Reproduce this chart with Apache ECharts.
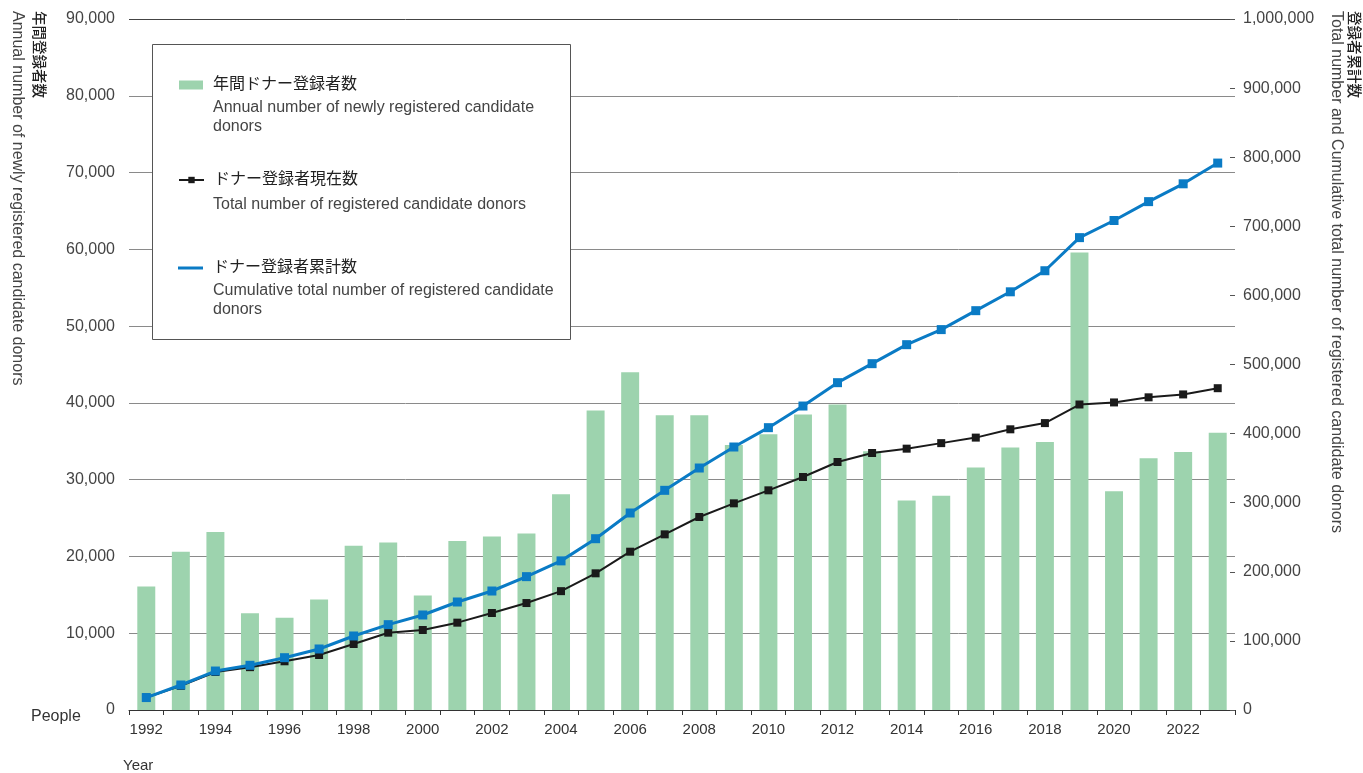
<!DOCTYPE html>
<html>
<head>
<meta charset="utf-8">
<script src="https://cdn.jsdelivr.net/npm/echarts@6/dist/echarts.min.js"></script>
<style>
html,body{margin:0;padding:0;background:#fff;}
#chart{width:1363px;height:773px;}
</style>
</head>
<body>
<div id="chart"></div>
<script>
// ---- data ----
const years = ['1992','1993','1994','1995','1996','1997','1998','1999','2000','2001','2002','2003','2004','2005','2006','2007','2008','2009','2010','2011','2012','2013','2014','2015','2016','2017','2018','2019','2020','2021','2022','2023'];
const annualNew = [16100,20600,23200,12600,12000,14400,21400,21800,14900,22000,22600,23000,28100,39000,44000,38400,38400,34500,35900,38500,39800,33700,27300,27900,31600,34200,34900,59600,28500,32800,33600,36100];
const currentTotal = [18000,35000,55000,62000,70500,79600,95500,111900,115800,126400,140400,154800,172000,197800,229100,254200,279300,299100,317900,337200,358900,371900,378200,386200,394200,406200,415200,442100,445100,452500,456700,465700];
const cumulativeTotal = [18000,36200,56400,64700,75700,88300,107100,123500,137500,156300,172200,193000,215800,247900,285100,317900,350200,380600,408600,439900,473700,501200,528700,550500,577900,605200,635700,683600,708400,735700,761500,791500];
const leftAxis = {min:0, max:90000, interval:10000};
const rightAxis = {min:0, max:1000000, interval:100000};
const seriesNames = ['年間ドナー登録者数','ドナー登録者現在数','ドナー登録者累計数'];
const seriesSubs = ['Annual number of newly registered candidate\ndonors','Total number of registered candidate donors','Cumulative total number of registered candidate\ndonors'];
const leftName = ['年間登録者数','Annual number of newly registered candidate donors'];
const rightName = ['登録者累計数','Total number and Cumulative total number of registered candidate donors'];
const unitLabel = 'People';
const xName = 'Year';

const FONT = "'Liberation Sans', 'Noto Sans CJK JP', Arial, sans-serif";
const JFONT = "'Noto Sans CJK JP', 'Liberation Sans', sans-serif";
const fmt = v => v.toLocaleString('en-US');

const chart = echarts.init(document.getElementById('chart'));
const splitColors = [];
for (let i = 0; i < 10; i++) splitColors.push(i === 9 ? '#444' : '#8a8a8a');

const legendText = {fontSize: 16, color: '#222', padding: [0,0,0,5], fontFamily: FONT};

const option = {
  animation: false,
  textStyle: {fontFamily: FONT},
  grid: {left: 129, right: 128, top: 19, bottom: 63, containLabel: false},
  xAxis: {
    type: 'category', data: years, boundaryGap: true,
    axisLine: {show: true, lineStyle: {color: '#333', width: 1}},
    axisTick: {show: true, interval: 0, length: 5, lineStyle: {color: '#333'}},
    axisLabel: {interval: 1, fontSize: 15, color: '#333', margin: 12, fontFamily: FONT},
    splitLine: {show: false}
  },
  yAxis: [
    {
      type: 'value', min: leftAxis.min, max: leftAxis.max, interval: leftAxis.interval,
      axisLine: {show: false}, axisTick: {show: false},
      axisLabel: {fontSize: 16, color: '#444', margin: 14, formatter: fmt, fontFamily: FONT},
      splitLine: {show: true, lineStyle: {color: splitColors, width: 1}}
    },
    {
      type: 'value', min: rightAxis.min, max: rightAxis.max, interval: rightAxis.interval,
      position: 'right',
      axisLine: {show: false},
      axisTick: {show: true, inside: true, length: 5, lineStyle: {color: '#555'}},
      axisLabel: {fontSize: 16, color: '#444', margin: 8, formatter: fmt, fontFamily: FONT},
      splitLine: {show: false}
    }
  ],
  legend: [
    {data: [{name: seriesNames[0], icon: 'rect'}], left: 179, top: 77, padding: 0, itemWidth: 24, itemHeight: 9, z: 10, selectedMode: false,
     textStyle: legendText},
    {data: [seriesNames[1]], left: 178, top: 172, padding: 0, itemWidth: 25, itemHeight: 8, z: 10, selectedMode: false,
     textStyle: legendText},
    {data: [{name: seriesNames[2], icon: 'rect'}], left: 178, top: 260, padding: 0, itemWidth: 25, itemHeight: 3, z: 10, selectedMode: false,
     textStyle: legendText}
  ],
  graphic: [
    {type: 'rect', z: 5, shape: {x: 152.5, y: 44.5, width: 418, height: 295}, style: {fill: '#fff', stroke: '#555', lineWidth: 1}},
    {type: 'text', z: 11, x: 213, y: 98, style: {text: seriesSubs[0], font: "16px " + FONT, fill: '#444', textVerticalAlign: 'top', lineHeight: 19}},
    {type: 'text', z: 11, x: 213, y: 195, style: {text: seriesSubs[1], font: "16px " + FONT, fill: '#444', textVerticalAlign: 'top', lineHeight: 19}},
    {type: 'text', z: 11, x: 213, y: 281, style: {text: seriesSubs[2], font: "16px " + FONT, fill: '#444', textVerticalAlign: 'top', lineHeight: 19}},
    {type: 'text', x: 47, y: 11, rotation: -Math.PI/2, style: {text: leftName[0], font: "500 14.5px " + JFONT, fill: '#222', textAlign: 'left', textVerticalAlign: 'top'}},
    {type: 'text', x: 25, y: 11, rotation: -Math.PI/2, style: {text: leftName[1], font: "16px " + FONT, fill: '#444', textAlign: 'left', textVerticalAlign: 'top'}},
    {type: 'text', x: 1362, y: 11, rotation: -Math.PI/2, style: {text: rightName[0], font: "500 14.5px " + JFONT, fill: '#222', textAlign: 'left', textVerticalAlign: 'top'}},
    {type: 'text', x: 1344, y: 11, rotation: -Math.PI/2, style: {text: rightName[1], font: "16px " + FONT, fill: '#444', textAlign: 'left', textVerticalAlign: 'top'}},
    {type: 'text', x: 31, y: 717, style: {text: unitLabel, font: "16px " + FONT, fill: '#333', textVerticalAlign: 'middle'}},
    {type: 'text', x: 123, y: 766, style: {text: xName, font: "15px " + FONT, fill: '#333', textVerticalAlign: 'middle'}}
  ],
  series: [
    {
      name: seriesNames[0], type: 'bar', yAxisIndex: 0, data: annualNew, barWidth: '52%',
      itemStyle: {color: '#9dd3ae'}
    },
    {
      name: seriesNames[1], type: 'line', yAxisIndex: 1, data: currentTotal,
      symbol: 'rect', symbolSize: 8, showSymbol: true,
      lineStyle: {color: '#1a1a1a', width: 2}, itemStyle: {color: '#1a1a1a'}, z: 3
    },
    {
      name: seriesNames[2], type: 'line', yAxisIndex: 1, data: cumulativeTotal,
      symbol: 'rect', symbolSize: 9, showSymbol: true,
      lineStyle: {color: '#0a7bc5', width: 3}, itemStyle: {color: '#0a7bc5'}, z: 4
    }
  ]
};
chart.setOption(option);
</script>
</body>
</html>
